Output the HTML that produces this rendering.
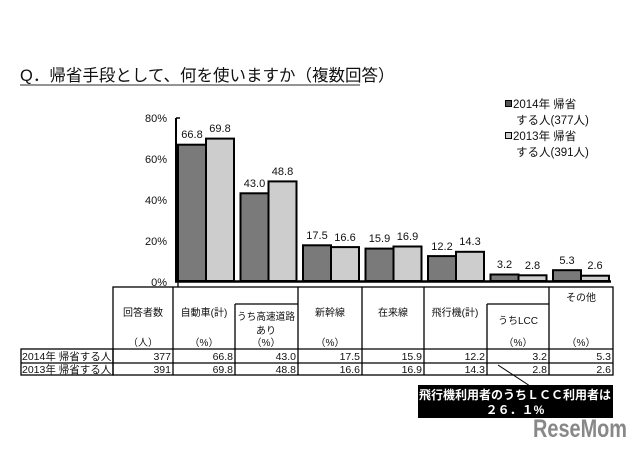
<!DOCTYPE html>
<html><head><meta charset="utf-8"><style>
html,body{margin:0;padding:0;background:#fff;}
svg{display:block;}
text{font-family:"Liberation Sans","Noto Sans CJK JP",sans-serif;fill:#111;}
</style></head><body>
<svg width="640" height="450" viewBox="0 0 640 450" xmlns="http://www.w3.org/2000/svg">
<text x="20" y="81" font-size="16.5" fill="#222">Q．帰省手段として、何を使いますか（複数回答）</text>
<line x1="20" y1="85" x2="360" y2="85" stroke="#555" stroke-width="1.2"/>
<g font-size="11" text-anchor="end">
<text x="167" y="122">80%</text><text x="167" y="163">60%</text><text x="167" y="204">40%</text><text x="167" y="245">20%</text><text x="167" y="286">0%</text>
</g>
<line x1="176" y1="118" x2="176" y2="282" stroke="#000" stroke-width="2"/>
<g stroke="#000" stroke-width="1.5"><line x1="176" y1="118" x2="180" y2="118"/><line x1="176" y1="159" x2="180" y2="159"/><line x1="176" y1="200" x2="180" y2="200"/><line x1="176" y1="241" x2="180" y2="241"/></g>
<g stroke="#000" stroke-width="2">
<rect x="178" y="144.7" width="28" height="136.3" fill="#7a7a7a"/><rect x="206" y="138.6" width="28" height="142.4" fill="#cdcdcd"/>
<rect x="240.5" y="193.3" width="28" height="87.7" fill="#7a7a7a"/><rect x="268.5" y="181.4" width="28" height="99.6" fill="#cdcdcd"/>
<rect x="303" y="245.3" width="28" height="35.7" fill="#7a7a7a"/><rect x="331" y="247.1" width="28" height="33.9" fill="#cdcdcd"/>
<rect x="365.5" y="248.6" width="28" height="32.4" fill="#7a7a7a"/><rect x="393.5" y="246.5" width="28" height="34.5" fill="#cdcdcd"/>
<rect x="428" y="256.1" width="28" height="24.9" fill="#7a7a7a"/><rect x="456" y="251.8" width="28" height="29.2" fill="#cdcdcd"/>
<rect x="490.5" y="274.5" width="28" height="6.5" fill="#7a7a7a"/><rect x="518.5" y="275.3" width="28" height="5.7" fill="#cdcdcd"/>
<rect x="553" y="270.2" width="28" height="10.8" fill="#7a7a7a"/><rect x="581" y="275.7" width="28" height="5.3" fill="#cdcdcd"/>
</g>
<line x1="175" y1="281.5" x2="611" y2="281.5" stroke="#000" stroke-width="2.5"/>
<g font-size="11" text-anchor="middle">
<text x="192" y="138">66.8</text><text x="220" y="132">69.8</text>
<text x="254.5" y="187">43.0</text><text x="282.5" y="175">48.8</text>
<text x="317" y="239">17.5</text><text x="345" y="241">16.6</text>
<text x="379.5" y="242">15.9</text><text x="407.5" y="240">16.9</text>
<text x="442" y="250">12.2</text><text x="470" y="245">14.3</text>
<text x="504.5" y="268">3.2</text><text x="532.5" y="269">2.8</text>
<text x="567" y="264">5.3</text><text x="595" y="269">2.6</text>
</g>
<rect x="505.5" y="100.5" width="6" height="6" fill="#555" stroke="#000"/>
<rect x="505.5" y="132.5" width="6" height="6" fill="#ccc" stroke="#000"/>
<g font-size="11.5"><text x="513" y="108">2014年 帰省</text><text x="516" y="124">する人(377人)</text>
<text x="513" y="140">2013年 帰省</text><text x="516" y="156">する人(391人)</text></g>
<g stroke="#000" stroke-width="1.3" fill="none">
<rect x="113" y="287" width="500" height="88"/>
<rect x="21" y="349" width="92" height="26"/>
<line x1="21" y1="363" x2="613" y2="363"/>
<line x1="113" y1="349" x2="613" y2="349"/>
<line x1="173" y1="287" x2="173" y2="375"/><line x1="235" y1="304" x2="235" y2="375"/><line x1="235" y1="304" x2="298" y2="304"/>
<line x1="298" y1="287" x2="298" y2="375"/><line x1="362" y1="287" x2="362" y2="375"/><line x1="424" y1="287" x2="424" y2="375"/>
<line x1="487" y1="304" x2="487" y2="375"/><line x1="487" y1="304" x2="549" y2="304"/><line x1="549" y1="287" x2="549" y2="375"/>
<line x1="178" y1="282" x2="178" y2="287"/>
</g>
<g font-size="10" text-anchor="middle">
<text x="143" y="316">回答者数</text><text x="204" y="316">自動車(計)</text><text x="266" y="320" textLength="58" lengthAdjust="spacingAndGlyphs">うち高速道路</text><text x="266" y="334">あり</text>
<text x="330" y="316">新幹線</text><text x="393" y="316">在来線</text><text x="455" y="316">飛行機(計)</text><text x="518" y="324">うちLCC</text><text x="581" y="301">その他</text>
<text x="143" y="346">（人）</text><text x="204" y="346">（%）</text><text x="266" y="346">（%）</text><text x="330" y="346">（%）</text><text x="518" y="346">（%）</text><text x="581" y="346">（%）</text>
</g>
<g font-size="10.5"><text x="22" y="360">2014年 帰省する人</text><text x="22" y="373">2013年 帰省する人</text></g>
<g font-size="10.5" text-anchor="end">
<text x="171" y="360">377</text><text x="233" y="360">66.8</text><text x="296" y="360">43.0</text><text x="360" y="360">17.5</text><text x="422" y="360">15.9</text><text x="485" y="360">12.2</text><text x="547" y="360">3.2</text><text x="611" y="360">5.3</text>
<text x="171" y="373">391</text><text x="233" y="373">69.8</text><text x="296" y="373">48.8</text><text x="360" y="373">16.6</text><text x="422" y="373">16.9</text><text x="485" y="373">14.3</text><text x="547" y="373">2.8</text><text x="611" y="373">2.6</text>
</g>
<line x1="498" y1="365" x2="530" y2="386" stroke="#000" stroke-width="1"/>
<rect x="418" y="385" width="195" height="33" fill="#000"/>
<g font-size="12" font-weight="bold" text-anchor="middle"><text x="515" y="399" style="fill:#fff">飛行機利用者のうちＬＣＣ利用者は</text><text x="515" y="414" style="fill:#fff">２６．１%</text></g>
<text x="580" y="437" font-size="25" font-weight="bold" text-anchor="middle" textLength="94" lengthAdjust="spacingAndGlyphs" style="fill:#888">ReseMom</text>
</svg>
</body></html>
